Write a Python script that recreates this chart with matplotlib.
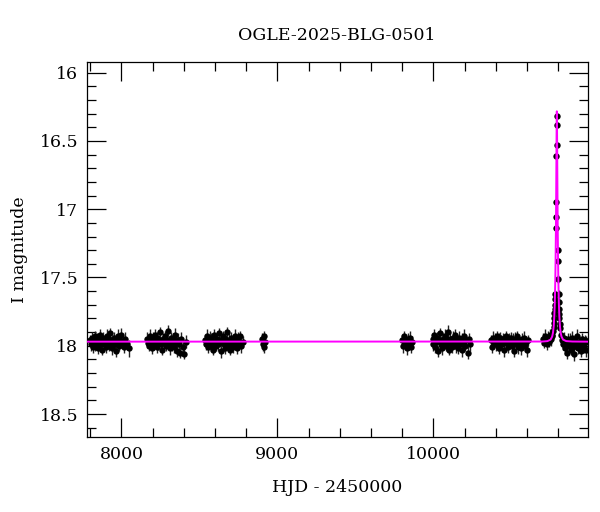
import matplotlib
matplotlib.use("Agg")
import matplotlib.pyplot as plt
from matplotlib.ticker import MultipleLocator

# ---------------- data ----------------
title = "OGLE-2025-BLG-0501"
xlabel = "HJD - 2450000"
ylabel = "I magnitude"

t1 = [7800, 7806, 7811, 7817, 7822, 7828, 7833, 7839, 7844, 7850,
      7855, 7861, 7866, 7872, 7877, 7883, 7888, 7894, 7899, 7905,
      7911, 7917, 7923, 7929, 7935, 7941, 7947, 7953, 7959, 7965,
      7972, 7979, 7986, 7993, 8000, 8008, 8016, 8025, 8035, 8047]
m1 = [17.96, 17.99, 17.94, 18.01, 17.97, 17.93, 18.00, 17.98, 17.95, 18.02,
      17.96, 17.92, 17.99, 17.97, 18.03, 17.94, 17.98, 17.96, 18.01, 17.93,
      17.97, 18.00, 17.95, 17.91, 17.98, 18.02, 17.96, 17.94, 17.99, 18.04,
      17.97, 17.93, 18.00, 17.96, 17.92, 17.98, 18.01, 17.95, 17.99, 18.02]
e1 = [0.04, 0.05, 0.04, 0.04, 0.05, 0.04, 0.04, 0.05, 0.04, 0.04,
      0.05, 0.04, 0.04, 0.05, 0.04, 0.04, 0.05, 0.04, 0.04, 0.05,
      0.04, 0.04, 0.05, 0.04, 0.04, 0.05, 0.04, 0.04, 0.05, 0.04,
      0.04, 0.05, 0.04, 0.04, 0.05, 0.04, 0.04, 0.05, 0.04, 0.06]

t2 = [8165, 8171, 8177, 8183, 8189, 8195, 8201, 8207, 8213, 8219,
      8225, 8231, 8237, 8243, 8249, 8255, 8261, 8267, 8273, 8279,
      8285, 8291, 8297, 8303, 8309, 8315, 8321, 8327, 8333, 8339,
      8345, 8351, 8357, 8363, 8369, 8376, 8383, 8392, 8403, 8415]
m2 = [17.95, 17.98, 18.00, 17.93, 17.97, 18.02, 17.95, 17.99, 17.92, 17.97,
      18.01, 17.94, 17.98, 17.96, 17.90, 17.99, 18.03, 17.95, 17.97, 17.93,
      18.00, 17.96, 17.89, 17.98, 18.02, 17.94, 17.97, 17.99, 17.95, 18.01,
      17.92, 17.98, 18.04, 17.96, 17.99, 18.05, 17.95, 18.01, 18.06, 17.97]
e2 = [0.05, 0.04, 0.04, 0.05, 0.04, 0.04, 0.05, 0.04, 0.04, 0.05,
      0.04, 0.04, 0.05, 0.04, 0.04, 0.05, 0.04, 0.04, 0.05, 0.04,
      0.04, 0.05, 0.04, 0.04, 0.05, 0.04, 0.04, 0.05, 0.04, 0.04,
      0.05, 0.04, 0.04, 0.05, 0.04, 0.04, 0.05, 0.04, 0.04, 0.05]

t3 = [8535, 8541, 8547, 8553, 8559, 8565, 8571, 8577, 8583, 8589,
      8595, 8601, 8607, 8613, 8619, 8625, 8631, 8637, 8643, 8649,
      8655, 8661, 8667, 8673, 8679, 8685, 8691, 8697, 8703, 8709,
      8715, 8721, 8727, 8733, 8739, 8746, 8753, 8761, 8769, 8778]
m3 = [17.96, 17.99, 17.93, 18.01, 17.97, 17.94, 18.00, 17.95, 17.98, 18.03,
      17.92, 17.97, 18.00, 17.95, 17.99, 17.91, 17.97, 18.04, 17.96, 17.93,
      17.99, 18.02, 17.95, 17.97, 17.90, 18.00, 17.96, 18.03, 17.94, 17.98,
      18.01, 17.96, 17.93, 17.99, 18.02, 17.95, 17.98, 17.93, 18.00, 17.97]
e3 = [0.04, 0.04, 0.05, 0.04, 0.04, 0.05, 0.04, 0.04, 0.05, 0.04,
      0.04, 0.05, 0.04, 0.04, 0.05, 0.04, 0.04, 0.05, 0.04, 0.04,
      0.05, 0.04, 0.04, 0.05, 0.04, 0.04, 0.05, 0.04, 0.04, 0.05,
      0.04, 0.04, 0.05, 0.04, 0.04, 0.05, 0.04, 0.04, 0.05, 0.04]

t4 = [8902, 8907, 8912, 8917, 8922]
m4 = [17.95, 17.99, 17.93, 18.01, 17.97]
e4 = [0.04, 0.05, 0.04, 0.04, 0.05]

t5 = [9800, 9807, 9814, 9821, 9828, 9835, 9842, 9849, 9856, 9863]
m5 = [17.96, 18.00, 17.93, 17.98, 18.02, 17.95, 17.99, 17.94, 18.01, 17.97]
e5 = [0.04, 0.05, 0.04, 0.04, 0.05, 0.04, 0.04, 0.05, 0.04, 0.04]

t6 = [9995, 10001, 10007, 10013, 10019, 10025, 10031, 10037, 10043, 10049,
      10055, 10061, 10067, 10073, 10079, 10085, 10091, 10097, 10103, 10109,
      10115, 10121, 10127, 10133, 10139, 10145, 10151, 10157, 10163, 10169,
      10175, 10181, 10187, 10193, 10199, 10205, 10212, 10220, 10229, 10238]
m6 = [17.95, 17.99, 17.92, 18.01, 17.97, 17.94, 18.04, 17.96, 17.91, 17.99,
      18.02, 17.95, 17.97, 17.93, 18.00, 17.96, 17.90, 17.98, 18.03, 17.95,
      17.97, 18.01, 17.94, 17.98, 17.92, 18.00, 17.96, 18.02, 17.94, 17.99,
      17.97, 18.03, 17.95, 17.98, 17.93, 18.00, 17.96, 18.05, 17.95, 17.99]
e6 = [0.04, 0.05, 0.04, 0.04, 0.05, 0.04, 0.04, 0.05, 0.04, 0.04,
      0.05, 0.04, 0.04, 0.05, 0.04, 0.04, 0.05, 0.04, 0.04, 0.05,
      0.04, 0.04, 0.05, 0.04, 0.04, 0.05, 0.04, 0.04, 0.05, 0.04,
      0.04, 0.05, 0.04, 0.04, 0.05, 0.04, 0.04, 0.05, 0.04, 0.05]

t7 = [10370, 10376, 10382, 10388, 10394, 10400, 10406, 10412, 10418, 10424,
      10430, 10436, 10442, 10448, 10454, 10460, 10466, 10472, 10478, 10484,
      10490, 10496, 10502, 10508, 10514, 10520, 10526, 10532, 10538, 10544,
      10550, 10556, 10562, 10568, 10574, 10580, 10586, 10592, 10598, 10604]
m7 = [17.96, 18.01, 17.94, 17.98, 17.95, 17.99, 17.93, 18.00, 17.96, 18.02,
      17.94, 17.97, 17.99, 17.95, 18.03, 17.96, 17.93, 17.98, 18.01, 17.95,
      17.97, 17.94, 18.00, 17.96, 17.99, 18.04, 17.95, 17.97, 17.93, 18.01,
      17.96, 17.98, 18.02, 17.95, 17.99, 17.94, 18.00, 17.97, 18.03, 17.96]
e7 = [0.04, 0.04, 0.05, 0.04, 0.04, 0.05, 0.04, 0.04, 0.05, 0.04,
      0.04, 0.05, 0.04, 0.04, 0.05, 0.04, 0.04, 0.05, 0.04, 0.04,
      0.05, 0.04, 0.04, 0.05, 0.04, 0.04, 0.05, 0.04, 0.04, 0.05,
      0.04, 0.04, 0.05, 0.04, 0.04, 0.05, 0.04, 0.04, 0.05, 0.04]

# 2025 season: before, during and after the event
t8a = [10705, 10711, 10717, 10723, 10729, 10735, 10741, 10747, 10753, 10759]
m8a = [17.95, 17.98, 17.93, 17.96, 17.99, 17.94, 17.97, 17.92, 17.95, 17.93]
e8a = [0.04, 0.04, 0.05, 0.04, 0.04, 0.05, 0.04, 0.04, 0.05, 0.04]

t_ev = [10764, 10768, 10771, 10773, 10775, 10776.5, 10777.5, 10778.5, 10779.5, 10780.5,
        10786, 10786.5, 10787.5, 10789.5, 10790, 10791.5, 10793,
        10799, 10800, 10802, 10803.5, 10805, 10806.5, 10808, 10809, 10811, 10813]
m_ev = [17.92, 17.89, 17.86, 17.83, 17.80, 17.76, 17.73, 17.70, 17.66, 17.62,
        17.14, 17.06, 16.95, 16.61, 16.53, 16.32, 16.38,
        17.30, 17.38, 17.51, 17.62, 17.68, 17.73, 17.77, 17.80, 17.84, 17.87]
e_ev = [0.04, 0.04, 0.04, 0.04, 0.04, 0.04, 0.04, 0.03, 0.03, 0.03,
        0.02, 0.02, 0.02, 0.015, 0.015, 0.015, 0.015,
        0.02, 0.02, 0.03, 0.03, 0.03, 0.03, 0.04, 0.04, 0.04, 0.04]

t8b = [10820, 10826, 10832, 10838, 10844, 10850, 10856, 10862, 10868, 10874,
       10880, 10886, 10892, 10898, 10904, 10910, 10916, 10922, 10928, 10934,
       10940, 10946, 10952, 10958, 10964, 10970, 10976, 10982]
m8b = [17.92, 17.96, 17.99, 17.94, 18.02, 17.97, 18.05, 17.95, 18.00, 17.96,
       18.03, 17.98, 17.94, 18.01, 18.06, 17.96, 17.99, 17.93, 18.02, 17.97,
       18.00, 18.04, 17.95, 17.98, 18.01, 17.96, 18.03, 17.97]
e8b = [0.04, 0.05, 0.04, 0.04, 0.05, 0.04, 0.05, 0.04, 0.04, 0.05,
       0.04, 0.04, 0.05, 0.04, 0.05, 0.04, 0.04, 0.05, 0.04, 0.04,
       0.05, 0.04, 0.04, 0.05, 0.04, 0.04, 0.05, 0.04]

# model light curve (magenta)
t_model = [7777, 10700, 10732, 10752, 10762, 10767, 10772, 10776, 10779, 10782,
           10784, 10786, 10788, 10789, 10790, 10791, 10792, 10793, 10794, 10795,
           10796, 10798, 10800, 10802, 10805, 10808, 10812, 10817, 10822, 10832,
           10852, 10892, 10990]
m_model = [17.970, 17.969, 17.966, 17.955, 17.933, 17.907, 17.857, 17.781, 17.685, 17.531,
           17.379, 17.168, 16.877, 16.700, 16.512, 16.350, 16.283, 16.350, 16.512, 16.700,
           16.877, 17.168, 17.379, 17.531, 17.685, 17.781, 17.857, 17.907, 17.933, 17.955,
           17.966, 17.969, 17.970]

xlim = (7777, 10990)
ylim = (18.666, 15.922)

# ---------------- figure ----------------
plt.rcParams['font.family'] = ['DejaVu Serif']
FS = 12.5
fig = plt.figure(figsize=(6.0, 5.12), dpi=100)
ax = fig.add_axes([86.7 / 600, 1 - 436.7 / 512, (587.7 - 86.7) / 600, (436.7 - 62) / 512])

seasons = [(t1, m1, e1), (t2, m2, e2), (t3, m3, e3), (t4, m4, e4), (t5, m5, e5),
           (t6, m6, e6), (t7, m7, e7), (t8a, m8a, e8a), (t_ev, m_ev, e_ev), (t8b, m8b, e8b)]
for t, m, e in seasons:
    ax.errorbar(t, m, yerr=e, fmt='o', color='black', ecolor='#222222', ms=4.6, mew=0,
                elinewidth=1.0, capsize=2.8, capthick=1.0, zorder=2)

ax.plot(t_model, m_model, color='#ff00ff', lw=1.4, zorder=3)

ax.set_xlim(*xlim)
ax.set_ylim(*ylim)
ax.xaxis.set_major_locator(MultipleLocator(1000))
ax.xaxis.set_minor_locator(MultipleLocator(200))
ax.yaxis.set_major_locator(MultipleLocator(0.5))
ax.yaxis.set_minor_locator(MultipleLocator(0.1))
ax.tick_params(which='both', direction='in', top=True, right=True, width=0.9, colors='black',
               labelsize=FS)
ax.tick_params(which='major', length=13.5, pad=7)
ax.tick_params(which='minor', length=6.8)
ax.tick_params(axis='y', which='major', pad=6)
ax.yaxis.set_major_formatter(plt.FuncFormatter(lambda v, p: f"{v:g}"))
for s in ax.spines.values():
    s.set_linewidth(0.9)

fig.text(337.2 / 600, 1 - 35 / 512, title, ha='center', va='center', fontsize=FS)
fig.text(337.2 / 600, 1 - 487 / 512, xlabel, ha='center', va='center', fontsize=FS)
fig.text(20 / 600, 1 - 249.4 / 512, ylabel, ha='center', va='center', rotation=90, fontsize=FS)

fig.savefig("out.png", dpi=100)
